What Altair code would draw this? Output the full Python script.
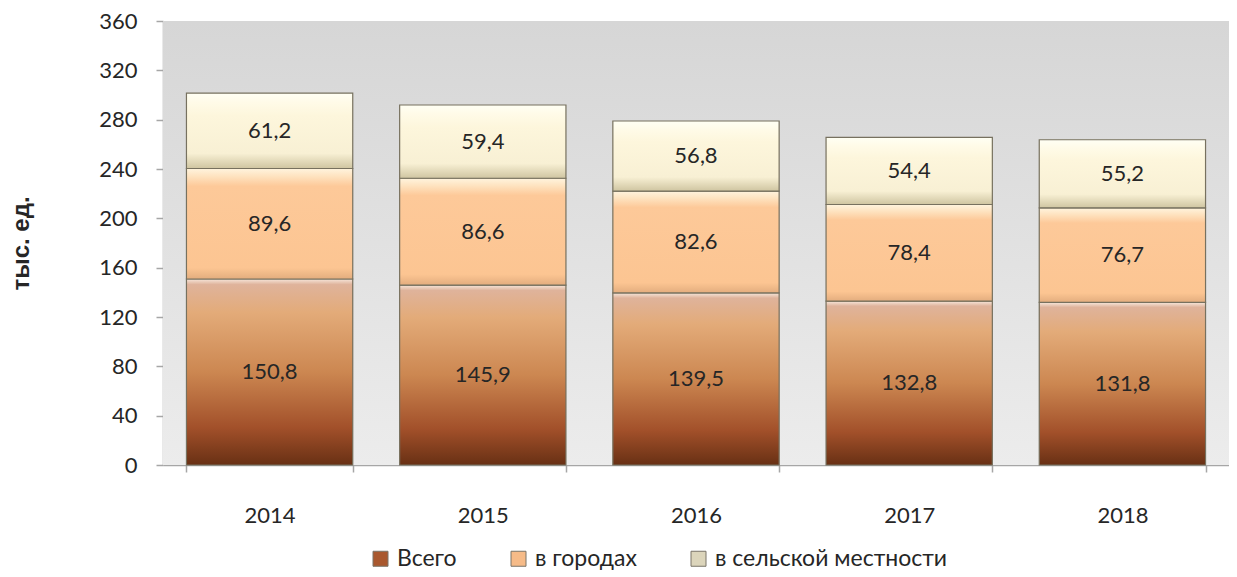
import altair as alt
import pandas as pd

years = ["2014", "2015", "2016", "2017", "2018"]
series = ["Всего", "в городах", "в сельской местности"]
vsego = [150.8, 145.9, 139.5, 132.8, 131.8]
v_gorodah = [89.6, 86.6, 82.6, 78.4, 76.7]
v_sele = [61.2, 59.4, 56.8, 54.4, 55.2]
y_ticks = [0, 40, 80, 120, 160, 200, 240, 280, 320, 360]

W, H = 1066, 444
FONT = "Lato"
TXT = "#262626"
AX = "#a6a6a6"

rows = []
for i, yr in enumerate(years):
    for k, (s, vals) in enumerate(zip(series, [vsego, v_gorodah, v_sele])):
        rows.append({"year": yr, "series": s, "order": k, "value": vals[i]})
df = pd.DataFrame(rows)


def grad(stops):
    return alt.Gradient(gradient="linear", x1=0, y1=0, x2=0, y2=1,
                        stops=[alt.GradientStop(offset=o, color=c) for o, c in stops])


grads = {
    "Всего": grad([(0, "#f6e6da"), (0.03, "#dfb39b"), (0.18, "#e3ab79"),
                   (0.5, "#cc8751"), (0.8, "#a2502a"), (1, "#683014")]),
    "в городах": grad([(0, "#fff4de"), (0.07, "#fee3c0"), (0.16, "#fdc999"),
                       (0.9, "#fcc592"), (1, "#e3ad7e")]),
    "в сельской местности": grad([(0, "#fffff4"), (0.12, "#fffbe8"), (0.3, "#fdf6dc"),
                                  (0.8, "#f8f0d4"), (1, "#cfc5a1")]),
}
legend_colors = ["#a9582e", "#f6bb88", "#dcd5bb"]

bg_grad = grad([(0, "#d6d6d6"), (1, "#ececec")])

x_enc = alt.X("year:N", sort=years,
              scale=alt.Scale(paddingInner=0.22, paddingOuter=0.11),
              axis=alt.Axis(title=None, labelAngle=0, tickBand="extent",
                            domainColor=AX, domainWidth=1.5, tickColor=AX,
                            tickWidth=1.5, tickSize=7, labelPadding=33,
                            labelFont=FONT, labelFontSize=22, labelColor=TXT))
y_scale = alt.Scale(domain=[0, 360], nice=False)
y_axis = alt.Axis(values=y_ticks, grid=False, domainColor=AX, domainWidth=1.5,
                  tickColor=AX, tickWidth=1.5, tickSize=7, labelPadding=19,
                  labelFont=FONT, labelFontSize=22, labelColor=TXT,
                  title="тыс. ед.", titleFont="Liberation Sans", titleFontWeight="bold",
                  titleFontSize=24, titleColor=TXT, titleAngle=270, titleX=-142,
                  titleY=H / 2, titleAlign="center", titleBaseline="middle")

base = alt.Chart(df).transform_stack(
    stack="value", groupby=["year"], as_=["y0", "y1"],
    sort=[alt.SortField("order", order="ascending")])

bg = alt.Chart(pd.DataFrame({"a": [0]})).mark_rect(fill=bg_grad).encode(
    x=alt.value(0), x2=alt.value(W), y=alt.value(0), y2=alt.value(H))

legend_bars = base.mark_bar(strokeWidth=0).encode(
    x=x_enc,
    y=alt.Y("y0:Q", scale=y_scale, axis=y_axis),
    y2="y1:Q",
    color=alt.Color("series:N", sort=series,
                    scale=alt.Scale(domain=series, range=legend_colors),
                    legend=alt.Legend(title=None, orient="none", legendX=206, legendY=526,
                                      direction="horizontal", labelFont=FONT,
                                      labelFontSize=23, labelColor=TXT, labelLimit=0,
                                      symbolType="square", symbolSize=225,
                                      symbolStrokeColor="#7a7468", symbolStrokeWidth=1,
                                      columnPadding=50, labelOffset=5)),
)

layers = [bg, legend_bars]
for s in series:
    layers.append(
        base.transform_filter(alt.datum.series == s)
        .mark_bar(fill=grads[s], stroke="#77715f", strokeWidth=1.2)
        .encode(x=x_enc, y=alt.Y("y0:Q", scale=y_scale, axis=y_axis), y2="y1:Q")
    )

labels = base.transform_calculate(
    mid="(datum.y0 + datum.y1) / 2",
    label="replace(format(datum.value, '.1f'), '.', ',')",
).mark_text(font=FONT, fontSize=22, color=TXT).encode(
    x=x_enc, y=alt.Y("mid:Q", scale=y_scale, axis=y_axis), text="label:N")
layers.append(labels)

chart = alt.layer(*layers).properties(
    width=W, height=H,
    autosize=alt.AutoSizeParams(type="none"),
    padding={"left": 155, "top": 13, "right": 0, "bottom": 110},
).configure_view(strokeWidth=0)

chart.save("out.html", embed_options={"renderer": "svg", "actions": False})
